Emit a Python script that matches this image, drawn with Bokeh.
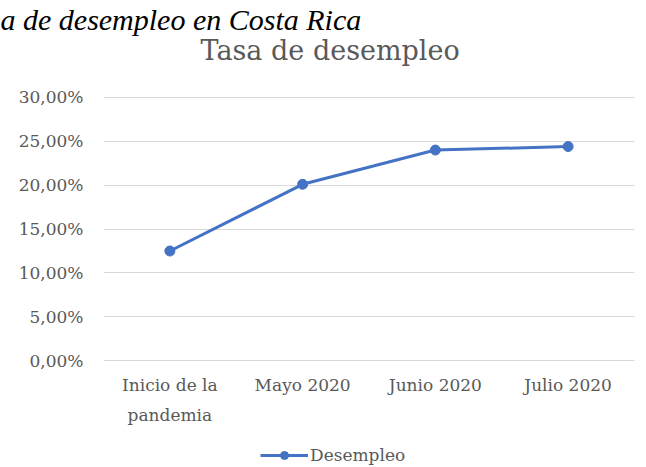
from bokeh.plotting import figure
from bokeh.models import (Legend, LegendItem, FixedTicker, Range1d,
                          FactorRange, Title, Label)
from bokeh.embed import file_html
from bokeh.resources import INLINE

categories = ["Inicio de la\npandemia", "Mayo 2020", "Junio 2020", "Julio 2020"]
desempleo = [12.5, 20.1, 24.0, 24.4]
y_ticks = [0, 5, 10, 15, 20, 25, 30]
y_tick_labels = ["0,00%", "5,00%", "10,00%", "15,00%", "20,00%", "25,00%", "30,00%"]
title_text = "Tasa de desempleo"
caption_text = "a de desempleo en Costa Rica"
series_name = "Desempleo"

BLUE = "#4472C4"
GRAY_TXT = "#595959"
GRID = "#d9d9d9"
FONT = "DejaVu Serif"

# value axis: the frame runs from just under the caption to the bottom of the
# page, so the title, the category labels and the legend all sit inside it
Y_MIN, Y_MAX = -12.16, 37.05

caption = Title(text=caption_text, align="left", offset=-103, standoff=0,
                text_font="Liberation Serif", text_font_size="30px",
                text_font_style="italic", text_color="black")

p = figure(width=646, height=467, x_range=FactorRange(*categories),
           y_range=Range1d(Y_MIN, Y_MAX), output_backend="svg",
           toolbar_location=None, title=caption,
           min_border_left=103, min_border_right=12, min_border_top=34,
           min_border_bottom=0)
p.outline_line_color = None
p.background_fill_color = "white"
p.border_fill_color = "white"

p.add_layout(Label(x=97, y=417, x_units="screen", y_units="screen",
                   text=title_text, text_align="left",
                   text_baseline="alphabetic", text_font=FONT,
                   text_font_size="27px", text_color=GRAY_TXT))

line_r = p.line(categories, desempleo, line_color=BLUE, line_width=3)
circ_r = p.scatter(categories, desempleo, size=10, fill_color=BLUE,
                   line_color=BLUE)

p.yaxis.ticker = FixedTicker(ticks=y_ticks)
p.yaxis.major_label_overrides = {t: s for t, s in zip(y_ticks, y_tick_labels)}
p.yaxis.axis_line_color = None
p.yaxis.major_tick_line_color = None
p.yaxis.minor_tick_line_color = None
p.yaxis.major_tick_out = 0
p.yaxis.major_tick_in = 0
p.yaxis.minor_tick_out = 0
p.yaxis.major_label_standoff = 20
p.yaxis.major_label_text_font = FONT
p.yaxis.major_label_text_font_size = "17px"
p.yaxis.major_label_text_color = GRAY_TXT

p.xaxis.fixed_location = 0
p.xaxis.axis_line_color = GRID
p.xaxis.axis_line_width = 1
p.xaxis.major_tick_line_color = None
p.xaxis.minor_tick_line_color = None
p.xaxis.major_tick_out = 0
p.xaxis.major_tick_in = 0
p.xaxis.major_label_standoff = 14
p.xaxis.major_label_text_font = FONT
p.xaxis.major_label_text_font_size = "17px"
p.xaxis.major_label_text_color = GRAY_TXT
p.xaxis.major_label_text_line_height = 1.5

p.xgrid.grid_line_color = None
p.ygrid.grid_line_color = GRID
p.ygrid.grid_line_width = 1

legend = Legend(items=[LegendItem(label=series_name,
                                  renderers=[line_r, circ_r])],
                location=(157, 2), orientation="horizontal",
                glyph_width=48, glyph_height=20, padding=0, margin=0,
                spacing=0, label_standoff=2, border_line_alpha=0,
                background_fill_alpha=0, label_text_font=FONT,
                label_text_font_size="17px", label_text_color=GRAY_TXT)
p.add_layout(legend, "center")

open("out.html", "w").write(file_html(p, INLINE))
